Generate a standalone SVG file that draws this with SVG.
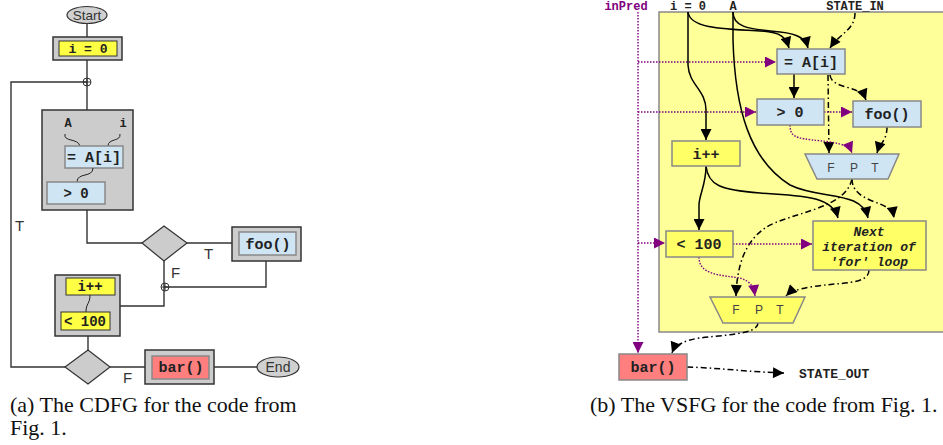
<svg xmlns="http://www.w3.org/2000/svg" width="943" height="445" viewBox="0 0 943 445">
<defs>
<style>
.mono{font-family:"Liberation Mono","DejaVu Sans Mono",monospace;font-weight:bold;fill:#222;text-anchor:middle}
.sans{font-family:"Liberation Sans",Arial,sans-serif;fill:#333}
.serif{font-family:"Liberation Serif","Times New Roman",serif;fill:#111;font-size:22px}
.cl{fill:none;stroke:#333;stroke-width:1.4}
.gbox{fill:#cccccc;stroke:#333;stroke-width:1.5}
.blue{fill:#cfe5f3;stroke:#888;stroke-width:1.5}
.yel{fill:#ffff66;stroke:#888;stroke-width:1.5}
.red{fill:#ff7f7f;stroke:#888;stroke-width:1.5}
.wire{fill:none;stroke:#222;stroke-width:1}
.solid{fill:none;stroke:#000;stroke-width:1.5}
.dd{fill:none;stroke:#000;stroke-width:1.5;stroke-dasharray:6,3,1.5,3}
.pd{fill:none;stroke:#800080;stroke-width:1.4;stroke-dasharray:1.5,1.5}
.mux{font-family:"Liberation Sans",Arial,sans-serif;font-size:12px;fill:#444;text-anchor:middle}
</style>
<marker id="ab" viewBox="0 0 10 10" refX="10" refY="5" markerWidth="12" markerHeight="11" markerUnits="userSpaceOnUse" orient="auto"><path d="M0,0 L10,5 L0,10 z" fill="#000"/></marker>
<marker id="ap" viewBox="0 0 10 10" refX="10" refY="5" markerWidth="12" markerHeight="11" markerUnits="userSpaceOnUse" orient="auto"><path d="M0,0 L10,5 L0,10 z" fill="#800080"/></marker>
</defs>

<!-- ===== (a) CDFG ===== -->
<g id="cdfg-edges">
<path class="cl" d="M87,24 L87,37"/>
<path class="cl" d="M87,60 L87,110"/>
<path class="cl" d="M87,82 L11,82 L11,367 L65,367"/>
<path class="cl" d="M87,210 L87,243 L142,243"/>
<path class="cl" d="M187,243 L232,243"/>
<path class="cl" d="M164,261 L164,306 L120,306"/>
<path class="cl" d="M266,261 L266,287 L164,287"/>
<path class="cl" d="M88,336 L88,350"/>
<path class="cl" d="M110,367 L145,367"/>
<path class="cl" d="M214,367 L257,367"/>
<circle cx="87" cy="82" r="4" fill="none" stroke="#333" stroke-width="1"/>
<path d="M83,82 H91 M87,78 V86" stroke="#333" stroke-width="1"/>
<circle cx="165" cy="287" r="4" fill="none" stroke="#333" stroke-width="1"/>
<path d="M161,287 H169 M165,283 V291" stroke="#333" stroke-width="1"/>
<text class="sans" x="15" y="231" font-size="15">T</text>
<text class="sans" x="204" y="259" font-size="15">T</text>
<text class="sans" x="171" y="278" font-size="15">F</text>
<text class="sans" x="123" y="383" font-size="15">F</text>
</g>
<g id="start">
<ellipse cx="87" cy="15" rx="20" ry="8.5" fill="#d0d0d0" stroke="#333" stroke-width="1.2"/>
<text class="sans" x="87" y="20" font-size="13.5" text-anchor="middle">Start</text>
</g>
<g id="i0-a">
<rect class="gbox" x="53" y="37" width="69" height="23"/>
<rect x="59" y="41" width="58" height="15" fill="#ffff44" stroke="#333" stroke-width="1"/>
<text class="mono" x="88" y="53" font-size="13">i = 0</text>
</g>
<g id="block1-a">
<rect class="gbox" x="42" y="110" width="91" height="100"/>
<text class="mono" x="68" y="127" font-size="12">A</text>
<text class="mono" x="123" y="127" font-size="12">i</text>
<path class="wire" d="M65,134 C63,142 78,138 80,146"/>
<path class="wire" d="M120,134 C121,142 108,138 108,146"/>
<rect class="blue" x="65" y="146" width="58" height="22" stroke="#333" stroke-width="1"/>
<text class="mono" x="94" y="162" font-size="15">= A[i]</text>
<path class="wire" d="M93,168 C93,178 77,172 77,182"/>
<rect class="blue" x="47" y="182" width="58" height="22" stroke="#333" stroke-width="1"/>
<text class="mono" x="76" y="198" font-size="14">&gt; 0</text>
</g>
<g id="cond1-a">
<path d="M142,243 L164,226 L187,243 L164,261 z" fill="#cccccc" stroke="#333" stroke-width="1.2"/>
</g>
<g id="foo-a">
<rect class="gbox" x="232" y="227" width="69" height="34"/>
<rect class="blue" x="239" y="232" width="57" height="23" stroke="#333" stroke-width="1"/>
<text class="mono" x="268" y="249" font-size="15">foo()</text>
</g>
<g id="block2-a">
<rect class="gbox" x="55" y="275" width="65" height="61"/>
<rect x="66" y="278" width="49" height="17" fill="#ffff44" stroke="#333" stroke-width="1"/>
<text class="mono" x="90" y="291" font-size="14">i++</text>
<path class="wire" d="M90,295 C90,304 86,303 86,312"/>
<rect x="61" y="312" width="49" height="18" fill="#ffff44" stroke="#333" stroke-width="1"/>
<text class="mono" x="85" y="326" font-size="14">&lt; 100</text>
</g>
<g id="cond2-a">
<path d="M65,367 L88,350 L110,367 L88,384 z" fill="#cccccc" stroke="#333" stroke-width="1.2"/>
</g>
<g id="bar-a">
<rect class="gbox" x="145" y="350" width="69" height="34"/>
<rect class="red" x="152" y="356" width="57" height="23" stroke="#333" stroke-width="1"/>
<text class="mono" x="181" y="372" font-size="15">bar()</text>
</g>
<g id="end">
<ellipse cx="278" cy="367" rx="21" ry="10" fill="#d0d0d0" stroke="#333" stroke-width="1.2"/>
<text class="sans" x="278" y="372" font-size="14" text-anchor="middle">End</text>
</g>
<text class="serif" x="10" y="412">(a) The CDFG for the code from</text>
<text class="serif" x="10" y="435">Fig. 1.</text>

<!-- ===== (b) VSFG ===== -->
<g id="region">
<rect x="659" y="12" width="300" height="320" fill="#ffff99" stroke="#888" stroke-width="1.5"/>
</g>
<g id="inputs">
<text class="mono" x="626" y="10" font-size="12" style="fill:#800080">inPred</text>
<text class="mono" x="688" y="10" font-size="12">i = 0</text>
<text class="mono" x="733" y="10" font-size="12">A</text>
<text class="mono" x="855" y="10" font-size="12">STATE_IN</text>
</g>
<g id="vsfg-edges">
<path class="pd" d="M638,12 L638,353" marker-end="url(#ap)"/>
<path class="pd" d="M638,62 L776,62" marker-end="url(#ap)"/>
<path class="pd" d="M638,112 L756,112" marker-end="url(#ap)"/>
<path class="pd" d="M638,243 L665,243" marker-end="url(#ap)"/>
<path class="solid" d="M688,12 C690,28 720,29 760,31 C782,32 786,38 789,48" marker-end="url(#ab)"/>
<path class="solid" d="M733,12 C733,26 745,29 780,32 C800,34 806,40 808,48" marker-end="url(#ab)"/>
<path class="solid" d="M688,12 L688,65 C689,85 706,90 706,110 L706,140" marker-end="url(#ab)"/>
<path class="solid" d="M733,12 L733,40 C735,110 750,160 790,185 C820,200 862,190 868,218" marker-end="url(#ab)"/>
<path class="dd" d="M855,13 C855,30 840,33 830,48" marker-end="url(#ab)"/>
<path class="solid" d="M794,74 L794,98" marker-end="url(#ab)"/>
<path class="dd" d="M830,75 C832,90 860,84 866,100" marker-end="url(#ab)"/>
<path class="dd" d="M828,75 L829,153" marker-end="url(#ab)"/>
<path class="pd" d="M824,112 L852,112" marker-end="url(#ap)"/>
<path class="pd" d="M790,125 C790,140 800,138 830,142 C845,144 850,148 852,153" marker-end="url(#ap)"/>
<path class="dd" d="M887,127 C887,140 880,143 877,153" marker-end="url(#ab)"/>
<path class="dd" d="M852,179 C852,195 870,200 880,204 C890,208 893,212 894,218" marker-end="url(#ab)"/>
<path class="dd" d="M852,179 C845,210 790,212 765,228 C745,242 737,265 736,296" marker-end="url(#ab)"/>
<path class="solid" d="M706,166 C706,185 699,195 699,205 L699,230" marker-end="url(#ab)"/>
<path class="solid" d="M706,166 C708,185 720,190 760,193 C800,196 832,195 838,218" marker-end="url(#ab)"/>
<path class="pd" d="M733,244 L812,244" marker-end="url(#ap)"/>
<path class="pd" d="M699,257 C699,275 720,275 740,278 C752,282 754,288 755,296" marker-end="url(#ap)"/>
<path class="dd" d="M869,270 C869,285 840,282 810,287 C795,290 790,292 786,296" marker-end="url(#ab)"/>
<path class="dd" d="M758,323 C758,335 720,335 700,338 C685,340 675,345 672,353" marker-end="url(#ab)"/>
<path class="dd" d="M687,367 C720,368 750,372 784,373" marker-end="url(#ab)"/>
</g>
<g id="aidx">
<rect class="blue" x="777" y="49" width="68" height="25"/>
<text class="mono" x="811" y="67" font-size="15">= A[i]</text>
</g>
<g id="gt0">
<rect class="blue" x="757" y="99" width="67" height="26"/>
<text class="mono" x="790" y="117" font-size="15">&gt; 0</text>
</g>
<g id="foo">
<rect class="blue" x="853" y="101" width="68" height="26"/>
<text class="mono" x="887" y="119" font-size="15">foo()</text>
</g>
<g id="mux1">
<polygon points="805,154 899,154 888,179 817,179" fill="#cfe5f3" stroke="#888" stroke-width="1.5"/>
<text class="mux" x="831" y="172">F</text>
<text class="mux" x="854" y="172">P</text>
<text class="mux" x="875" y="172">T</text>
</g>
<g id="incr">
<rect class="yel" x="672" y="141" width="68" height="25"/>
<text class="mono" x="706" y="159" font-size="15">i++</text>
</g>
<g id="lt100">
<rect class="yel" x="666" y="231" width="67" height="26"/>
<text class="mono" x="699" y="249" font-size="15">&lt; 100</text>
</g>
<g id="next">
<rect class="yel" x="813" y="221" width="113" height="49"/>
<text class="mono" x="869" y="236" font-size="13" font-style="italic">Next</text>
<text class="mono" x="869" y="251" font-size="13" font-style="italic">iteration of</text>
<text class="mono" x="869" y="266" font-size="13" font-style="italic">'for' loop</text>
</g>
<g id="mux2">
<polygon points="710,297 805,297 793,323 723,323" fill="#ffff66" stroke="#888" stroke-width="1.5"/>
<text class="mux" x="736" y="314">F</text>
<text class="mux" x="759" y="314">P</text>
<text class="mux" x="780" y="314">T</text>
</g>
<g id="bar">
<rect class="red" x="619" y="354" width="68" height="26"/>
<text class="mono" x="653" y="372" font-size="15">bar()</text>
</g>
<g id="stateout">
<text class="mono" x="799" y="378" font-size="13" style="text-anchor:start">STATE_OUT</text>
</g>
<text class="serif" x="590" y="412">(b) The VSFG for the code from Fig. 1.</text>
</svg>
